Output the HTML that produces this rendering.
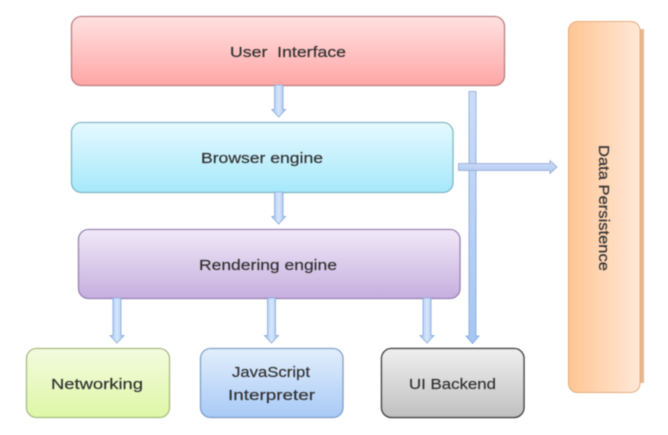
<!DOCTYPE html>
<html>
<head>
<meta charset="utf-8">
<style>
html,body{margin:0;padding:0;background:#fff;width:668px;height:435px;overflow:hidden}
svg{display:block}
text{font-family:"Liberation Sans",sans-serif;font-size:15px;fill:#333;stroke:#333;stroke-width:.2px;filter:url(#tb)}
</style>
</head>
<body>
<svg width="668" height="435" viewBox="0 0 668 435" xmlns="http://www.w3.org/2000/svg">
<defs>
<filter id="tb" x="-10%" y="-30%" width="120%" height="160%"><feGaussianBlur stdDeviation="0.4"/></filter>
<filter id="sb" x="-5%" y="-10%" width="110%" height="120%"><feGaussianBlur stdDeviation="0.45"/></filter>
<linearGradient id="r" x1="0" y1="0" x2="0" y2="1"><stop offset="0" stop-color="#ffe1e1"/><stop offset="1" stop-color="#ffa6a6"/></linearGradient>
<linearGradient id="c" x1="0" y1="0" x2="0" y2="1"><stop offset="0" stop-color="#e6f9ff"/><stop offset="1" stop-color="#a6e8fb"/></linearGradient>
<linearGradient id="p" x1="0" y1="0" x2="0" y2="1"><stop offset="0" stop-color="#f0e9f8"/><stop offset="1" stop-color="#c6aede"/></linearGradient>
<linearGradient id="g" x1="0" y1="0" x2="0" y2="1"><stop offset="0" stop-color="#f3fbdf"/><stop offset="1" stop-color="#def7a6"/></linearGradient>
<linearGradient id="b" x1="0" y1="0" x2="0" y2="1"><stop offset="0" stop-color="#e2eefc"/><stop offset="1" stop-color="#a8caf6"/></linearGradient>
<linearGradient id="k" x1="0" y1="0" x2="0" y2="1"><stop offset="0" stop-color="#efefef"/><stop offset="1" stop-color="#c0c0c0"/></linearGradient>
<linearGradient id="o" x1="0" y1="0" x2="1" y2="0"><stop offset="0" stop-color="#ffc594"/><stop offset="1" stop-color="#ffe8d8"/></linearGradient>
<linearGradient id="av" x1="0" y1="0" x2="1" y2="0"><stop offset="0" stop-color="#9cc0ee"/><stop offset=".5" stop-color="#d8e7fb"/><stop offset="1" stop-color="#9cc0ee"/></linearGradient>
<linearGradient id="ah" x1="0" y1="0" x2="0" y2="1"><stop offset="0" stop-color="#cfdcf7"/><stop offset="1" stop-color="#b0c8f0"/></linearGradient>
<linearGradient id="al" gradientUnits="userSpaceOnUse" x1="0" y1="91" x2="0" y2="344"><stop offset="0" stop-color="#cddcf7"/><stop offset="1" stop-color="#a5c6f2"/></linearGradient>
</defs>
<g filter="url(#sb)">
<!-- Data persistence -->
<rect x="632" y="29" width="12" height="354" fill="#e6b88e"/>
<rect x="568.5" y="21.5" width="71.500" height="371" rx="9" fill="url(#o)" stroke="#e2ab78" stroke-width="1"/>
<!-- boxes -->
<rect x="71.5" y="16.5" width="433" height="69" rx="10" fill="url(#r)" stroke="#b87a7a" stroke-width="1.3"/>
<rect x="71.5" y="122.5" width="381.5" height="70" rx="10" fill="url(#c)" stroke="#7db6c2" stroke-width="1.3"/>
<rect x="78.5" y="229.5" width="381.5" height="69" rx="10" fill="url(#p)" stroke="#957bb0" stroke-width="1.3"/>
<rect x="26.5" y="348.5" width="143" height="69" rx="10" fill="url(#g)" stroke="#a5b97e" stroke-width="1.3"/>
<rect x="200.5" y="348.5" width="142.5" height="69" rx="10" fill="url(#b)" stroke="#7d9dc8" stroke-width="1.3"/>
<rect x="381.5" y="348.5" width="142.5" height="69" rx="10" fill="url(#k)" stroke="#444" stroke-width="1.5"/>
<!-- down arrows -->
<path d="M274.5 85H283V109.500H285.500L278.700 117L271.800 109.500H274.500Z" fill="url(#av)" stroke="#7fa6dc" stroke-width=".8"/>
<path d="M274.5 192H283V216.500H285.500L278.700 224L271.800 216.500H274.500Z" fill="url(#av)" stroke="#7fa6dc" stroke-width=".8"/>
<path d="M113 298H121V335.500H124L117 343L110 335.500H113Z" fill="url(#av)" stroke="#7fa6dc" stroke-width=".8"/>
<path d="M267.500 298H275.500V335.500H278.500L271.500 343L264.500 335.500H267.500Z" fill="url(#av)" stroke="#7fa6dc" stroke-width=".8"/>
<path d="M423 298H431V335.500H434L427 343L420 335.500H423Z" fill="url(#av)" stroke="#7fa6dc" stroke-width=".8"/>
<!-- long arrow -->
<path d="M469 91.500H476V336H479L472.500 343.500L466 336H469Z" fill="url(#al)" stroke="#7fa6dc" stroke-width=".8"/>
<!-- horizontal arrow -->
<path d="M458.500 163.500H550V160.500L557 167L550 173.500V170.500H458.500Z" fill="url(#ah)" stroke="#8aa5d4" stroke-width=".8"/>
</g>
<!-- labels -->
<text x="230" y="57" textLength="116" lengthAdjust="spacingAndGlyphs" xml:space="preserve">User  Interface</text>
<text x="201" y="163" textLength="122" lengthAdjust="spacingAndGlyphs">Browser engine</text>
<text x="199" y="270" textLength="138" lengthAdjust="spacingAndGlyphs">Rendering engine</text>
<text x="51" y="389" textLength="92" lengthAdjust="spacingAndGlyphs">Networking</text>
<text x="232" y="377" textLength="78" lengthAdjust="spacingAndGlyphs">JavaScript</text>
<text x="228" y="400" textLength="87" lengthAdjust="spacingAndGlyphs">Interpreter</text>
<text x="409" y="389" textLength="87" lengthAdjust="spacingAndGlyphs">UI Backend</text>
<text transform="translate(599 145) rotate(90)" x="0" y="0" textLength="126" lengthAdjust="spacingAndGlyphs">Data Persistence</text>
</svg>
</body>
</html>
